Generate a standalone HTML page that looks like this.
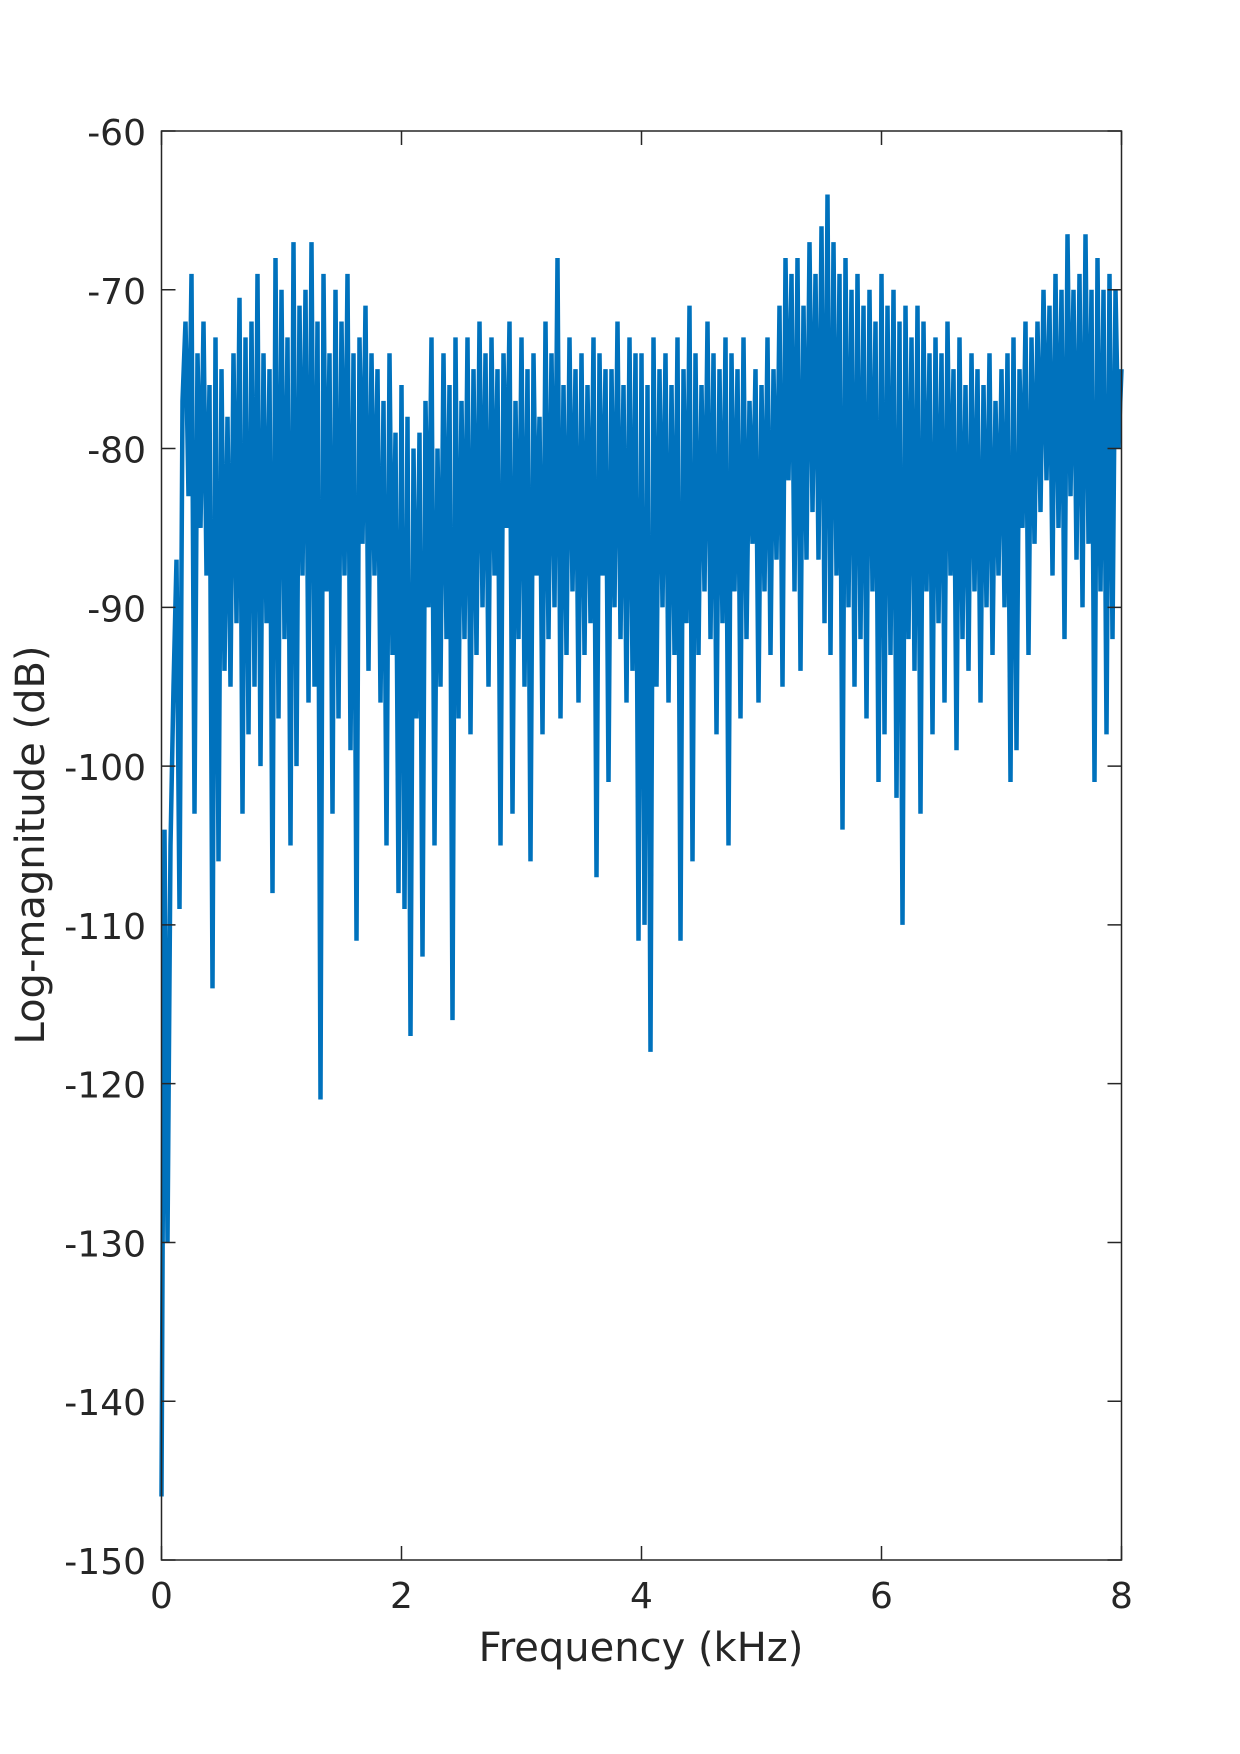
<!DOCTYPE html>
<html><head><meta charset="utf-8"><style>
html,body{margin:0;padding:0;background:#fff;}
svg{display:block;font-family:"DejaVu Sans","Liberation Sans",sans-serif;}
</style></head><body>
<svg id="chart" width="1240" height="1754" viewBox="0 0 1240 1754" xmlns="http://www.w3.org/2000/svg">
<rect width="1240" height="1754" fill="#fff"/>
<g id="plot"></g>
<g id="axes"></g>
<text x="641" y="1661" font-size="40" fill="#262626" text-anchor="middle">Frequency (kHz)</text>
<text transform="translate(44,845) rotate(-90)" font-size="40" fill="#262626" text-anchor="middle">Log-magnitude (dB)</text>
</svg>
<script>
const freqStep = 0.025;
const magnitudeDb = [
-146,-104,-130,-105,-95,-87,-109,-77,-72,-83,
-69,-103,-74,-85,-72,-88,-76,-114,-73,-106,
-75,-94,-78,-95,-74,-91,-70.5,-103,-73,-98,
-72,-95,-69,-100,-74,-91,-75,-108,-68,-97,
-70,-92,-73,-105,-67,-100,-71,-88,-70,-96,
-67,-95,-72,-121,-69,-89,-74,-103,-70,-97,
-72,-88,-69,-99,-74,-111,-73,-86,-71,-94,
-74,-88,-75,-96,-77,-105,-74,-93,-79,-108,
-76,-109,-78,-117,-80,-97,-79,-112,-77,-90,
-73,-105,-80,-95,-74,-92,-76,-116,-73,-97,
-77,-92,-73,-98,-75,-93,-72,-90,-74,-95,
-73,-88,-75,-105,-74,-85,-72,-103,-77,-92,
-73,-95,-75,-106,-74,-88,-78,-98,-72,-92,
-74,-90,-68,-97,-76,-93,-73,-89,-75,-96,
-74,-93,-76,-91,-73,-107,-74,-88,-75,-101,
-75,-90,-72,-92,-76,-96,-73,-94,-74,-111,
-74,-110,-76,-118,-73,-95,-75,-90,-74,-96,
-76,-93,-73,-111,-75,-91,-71,-106,-74,-93,
-76,-89,-72,-92,-74,-98,-75,-91,-73,-105,
-74,-89,-75,-97,-73,-92,-77,-86,-75,-96,
-76,-89,-73,-93,-75,-87,-71,-95,-68,-82,
-69,-89,-68,-94,-71,-87,-67,-84,-69,-87,
-66,-91,-64,-93,-67,-88,-69,-104,-68,-90,
-70,-95,-69,-92,-71,-97,-70,-89,-72,-101,
-69,-98,-71,-93,-70,-102,-72,-110,-71,-92,
-73,-94,-71,-103,-72,-89,-74,-98,-73,-91,
-74,-96,-72,-88,-75,-99,-73,-92,-76,-94,
-74,-89,-75,-96,-76,-90,-74,-93,-77,-88,
-75,-90,-74,-101,-73,-99,-75,-85,-72,-93,
-73,-86,-72,-84,-70,-82,-71,-88,-69,-85,
-70,-92,-66.5,-83,-70,-87,-69,-90,-66.5,-86,
-70,-101,-68,-89,-70,-98,-69,-92,-70,-80,
-75];
const xTicks = [0,2,4,6,8];
const yTicks = [-150,-140,-130,-120,-110,-100,-90,-80,-70,-60];

const L=161.5,R=1121.5,T=131,B=1560;
const xDomain=[0,8], yDomain=[-150,-60];
function xScale(v){return L+(v-xDomain[0])/(xDomain[1]-xDomain[0])*(R-L);}
function yScale(v){return B-(v-yDomain[0])/(yDomain[1]-yDomain[0])*(B-T);}
const NS='http://www.w3.org/2000/svg';
const plot=document.getElementById('plot');
const axes=document.getElementById('axes');

let d='';
magnitudeDb.forEach((v,i)=>{d+=(i?'L':'M')+xScale(i*freqStep).toFixed(2)+' '+yScale(v).toFixed(2);});
const line=document.createElementNS(NS,'path');
line.setAttribute('d',d);
line.setAttribute('fill','none');
line.setAttribute('stroke','#0072BD');
line.setAttribute('stroke-width','4.5');
line.setAttribute('stroke-linejoin','bevel');


plot.appendChild(line);

const box=document.createElementNS(NS,'rect');
box.setAttribute('x',L);box.setAttribute('y',T);
box.setAttribute('width',R-L);box.setAttribute('height',B-T);
box.setAttribute('fill','none');box.setAttribute('stroke','#262626');box.setAttribute('stroke-width','1.5');


axes.appendChild(box);

xTicks.forEach(t=>{
  const x=xScale(t);
  const tk=document.createElementNS(NS,'path');
  tk.setAttribute('d',`M${x} ${B}V${B-14}M${x} ${T}V${T+14}`);
  tk.setAttribute('stroke','#262626');tk.setAttribute('stroke-width','1.5');
  
  
  axes.appendChild(tk);
  const lb=document.createElementNS(NS,'text');
  lb.setAttribute('x',x);lb.setAttribute('y',1608);
  lb.setAttribute('font-size','36');lb.setAttribute('fill','#262626');lb.setAttribute('text-anchor','middle');
  lb.textContent=t;
  
  
  axes.appendChild(lb);
});
yTicks.forEach(t=>{
  const y=yScale(t);
  const tk=document.createElementNS(NS,'path');
  tk.setAttribute('d',`M${L} ${y}H${L+14}M${R} ${y}H${R-14}`);
  tk.setAttribute('stroke','#262626');tk.setAttribute('stroke-width','1.5');
  
  
  axes.appendChild(tk);
  const lb=document.createElementNS(NS,'text');
  lb.setAttribute('x',146);lb.setAttribute('y',y+14);
  lb.setAttribute('font-size','36');lb.setAttribute('fill','#262626');lb.setAttribute('text-anchor','end');
  lb.textContent=t;
  
  
  axes.appendChild(lb);
});
</script>
</body></html>
